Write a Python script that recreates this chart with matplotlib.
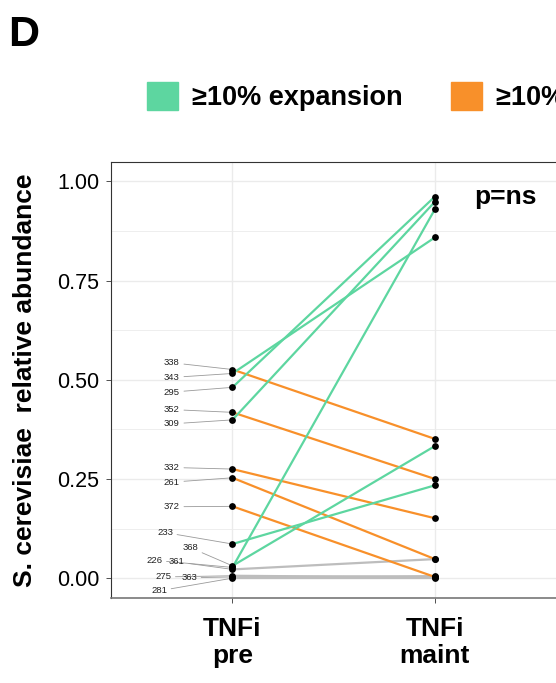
import matplotlib
matplotlib.use("Agg")
import matplotlib.pyplot as plt
from matplotlib.patches import Patch
from matplotlib.ticker import MultipleLocator

plt.rcParams['font.family'] = ['Liberation Sans', 'DejaVu Sans']

# values
patients = ['338', '343', '295', '352', '309', '332', '261', '372',
            '233', '368', '226', '361', '275', '363', '281']
pre = [0.526, 0.516, 0.481, 0.418, 0.399, 0.275, 0.253, 0.181,
       0.086, 0.031, 0.027, 0.022, 0.006, 0.003, 0.000]
maint = [0.351, 0.859, 0.962, 0.250, 0.949, 0.151, 0.048, 0.003,
         0.234, 0.333, 0.930, 0.048, 0.002, 0.005, 0.000]
change = ['contraction', 'expansion', 'expansion', 'contraction', 'expansion',
          'contraction', 'contraction', 'contraction', 'expansion', 'expansion',
          'expansion', 'none', 'none', 'none', 'none']
timepoints = ['TNFi\npre', 'TNFi\nmaint']
legend_labels = {'expansion': '≥10% expansion', 'contraction': '≥10% contraction'}

colors = {'expansion': '#5DD6A0', 'contraction': '#F8902A', 'none': '#BDBDBD'}

# where the repelled labels ended up (x, y in data units)
label_pos = {'338': (0.74, 0.543), '343': (0.74, 0.506), '295': (0.74, 0.469),
             '352': (0.74, 0.425), '309': (0.74, 0.389), '332': (0.74, 0.279),
             '261': (0.74, 0.242), '372': (0.74, 0.180), '233': (0.706, 0.115),
             '368': (0.83, 0.077), '226': (0.654, 0.045), '361': (0.764, 0.041),
             '275': (0.698, 0.003), '363': (0.825, 0.001), '281': (0.677, -0.032)}

fig = plt.figure(figsize=(5.56, 6.83), dpi=100)
ax = fig.add_axes([0.1996, 0.1245, 0.8011, 0.6388])

xs = [1, 2]
order = [i for i in range(len(patients)) if change[i] == 'none'] + \
        [i for i in range(len(patients)) if change[i] != 'none']
for i in order:
    ax.plot(xs, [pre[i], maint[i]], color=colors[change[i]], lw=1.6,
            solid_capstyle='butt', zorder=2)
ax.scatter([1] * len(pre), pre, s=24, color='black', zorder=4, linewidths=0)
ax.scatter([2] * len(maint), maint, s=24, color='black', zorder=4, linewidths=0)

for i, p in enumerate(patients):
    lx, ly = label_pos[p]
    ax.annotate(p, xy=(1, pre[i]), xytext=(lx, ly), ha='right', va='center',
                fontsize=6.8, color='#222222', zorder=3,
                arrowprops=dict(arrowstyle='-', color='#9A9A9A', lw=0.6,
                                shrinkA=1, shrinkB=0))

ax.text(2.35, 0.944, 'p=ns', ha='center', va='baseline', fontsize=19,
        fontweight='bold')

ax.set_xlim(0.4, 2.6)
ax.set_ylim(-0.05, 1.05)
ax.set_xticks(xs)
ax.set_xticklabels(timepoints, fontsize=19, fontweight='bold', linespacing=1.15)
ax.set_yticks([0, 0.25, 0.5, 0.75, 1.0])
ax.set_yticklabels(['0.00', '0.25', '0.50', '0.75', '1.00'], fontsize=15.5)
ax.yaxis.set_minor_locator(MultipleLocator(0.125))
ax.tick_params(axis='both', which='major', length=3.5, width=0.6,
               color='#333333', labelcolor='black')
ax.tick_params(axis='y', which='major', pad=5)
ax.tick_params(axis='x', which='major', pad=10)
ax.tick_params(axis='y', which='minor', length=0)
ax.grid(True, which='major', color='#EBEBEB', lw=1.0, zorder=0)
ax.grid(True, which='minor', axis='y', color='#EBEBEB', lw=0.6, zorder=0)
ax.set_axisbelow(True)
for s in ['left', 'top']:
    ax.spines[s].set_color('#333333')
    ax.spines[s].set_linewidth(0.8)
ax.spines['bottom'].set_color('#777777')
ax.spines['bottom'].set_linewidth(1.2)
ax.spines['right'].set_visible(False)

ax.set_ylabel('S. cerevisiae  relative abundance', fontsize=19, fontweight='bold')
ax.yaxis.set_label_coords(-0.166, 0.5)

handles = [Patch(color=colors[k], label=legend_labels[k]) for k in ['expansion', 'contraction']]
fig.legend(handles=handles, ncol=2, loc='center left', bbox_to_anchor=(0.2644, 0.858),
           frameon=False, prop={'size': 19.5, 'weight': 'bold'}, handlelength=1.15,
           handleheight=1.2, handletextpad=0.52, columnspacing=1.78,
           borderpad=0, borderaxespad=0)

fig.text(8 / 556, 1 - 46 / 683, 'D', fontsize=31, fontweight='bold', va='baseline')

fig.savefig('out.png', dpi=100)
